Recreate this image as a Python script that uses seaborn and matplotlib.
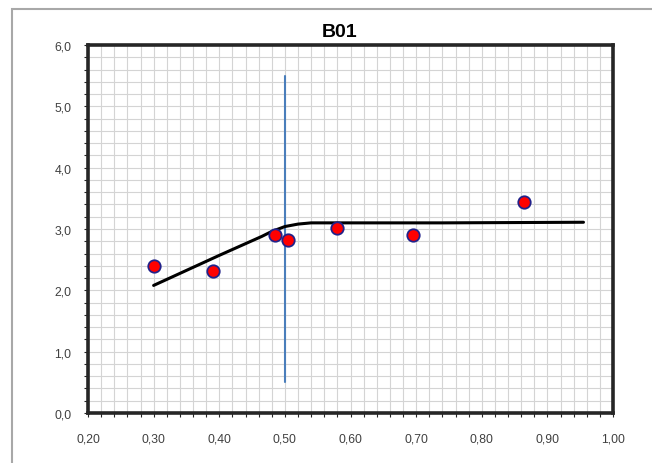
import matplotlib
matplotlib.use("Agg")
import matplotlib.pyplot as plt
import seaborn as sns
import pandas as pd
from matplotlib.ticker import MultipleLocator, FuncFormatter
from matplotlib.patches import Rectangle

# ---- data ----
pt_x = [0.30, 0.39, 0.485, 0.505, 0.58, 0.695, 0.865]
pt_y = [2.40, 2.32, 2.90, 2.82, 3.01, 2.90, 3.44]

curve_x = [0.30, 0.40, 0.465, 0.48, 0.50, 0.52, 0.54, 0.74, 0.955]
curve_y = [2.08, 2.57, 2.88, 2.96, 3.04, 3.08, 3.10, 3.10, 3.11]

vline_x = [0.50, 0.50]
vline_y = [0.5, 5.5]

title = "B01"

sns.set_theme(style="white")
plt.rcParams['font.family'] = ['Liberation Sans', 'DejaVu Sans']

W, H = 652, 464
fig = plt.figure(figsize=(W / 100, H / 100), dpi=100)
ax = fig.add_axes([88 / W, 1 - 414 / H, (613 - 88) / W, (414 - 46) / H])

pts = pd.DataFrame({"x": pt_x, "y": pt_y})
crv = pd.DataFrame({"x": curve_x, "y": curve_y})
vln = pd.DataFrame({"x": vline_x, "y": vline_y})

sns.lineplot(data=vln, x="x", y="y", ax=ax, color="#4a7ebb", linewidth=1.5,
             sort=False, estimator=None, zorder=3)
sns.lineplot(data=crv, x="x", y="y", ax=ax, color="black", linewidth=2.2,
             sort=False, estimator=None, zorder=4)
sns.scatterplot(data=pts, x="x", y="y", ax=ax, s=80, color="#ff0000",
                edgecolor="#22228a", linewidth=1.3, zorder=5)

ax.set_xlim(0.20, 1.00)
ax.set_ylim(0.0, 6.0)
ax.xaxis.set_major_locator(MultipleLocator(0.1))
ax.xaxis.set_minor_locator(MultipleLocator(0.02))
ax.yaxis.set_major_locator(MultipleLocator(1.0))
ax.yaxis.set_minor_locator(MultipleLocator(0.2))
ax.xaxis.set_major_formatter(FuncFormatter(lambda v, p: f"{v:.2f}".replace(".", ",")))
ax.yaxis.set_major_formatter(FuncFormatter(lambda v, p: f"{v:.1f}".replace(".", ",")))

ax.grid(which="both", color="#d4d4d4", linewidth=0.8, zorder=0)
ax.set_axisbelow(True)

for s in ax.spines.values():
    s.set_visible(True)
    s.set_color("#262626")
    s.set_linewidth(2.6)

ax.tick_params(axis="both", which="both", direction="out", length=3, width=0.8,
               color="#262626", left=True, bottom=True)
ax.tick_params(axis="y", which="major", pad=9, labelsize=8.8, labelcolor="#404040")
ax.tick_params(axis="x", which="major", pad=11, labelsize=8.8, labelcolor="#404040")

ax.set_xlabel("")
ax.set_ylabel("")
fig.text(340 / W, 1 - 37 / H, title, fontsize=14, fontweight="bold",
         ha="center", va="baseline", color="black")

fig.add_artist(Rectangle((12 / W, -0.5), 2, 0.5 + (1 - 10 / H),
                         transform=fig.transFigure, fill=False,
                         edgecolor="#a8a8a8", linewidth=1.5))

fig.savefig("out.png", dpi=100, facecolor="white")
